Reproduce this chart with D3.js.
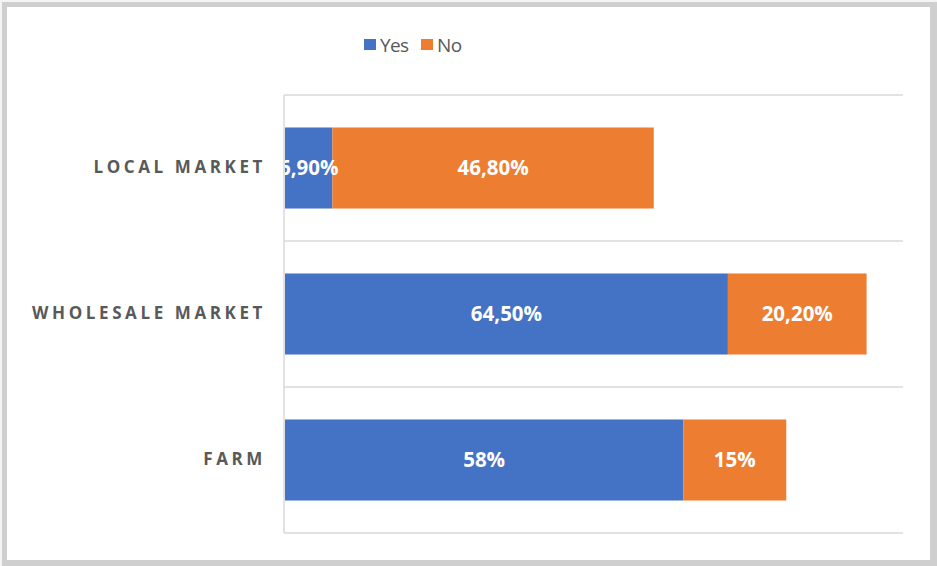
<!DOCTYPE html>
<html>
<head>
<meta charset="utf-8">
<script src="https://cdn.jsdelivr.net/npm/d3@7"></script>
<style>
  html, body { margin: 0; padding: 0; background: #ffffff; }
  svg { display: block; }
</style>
</head>
<body>
<svg id="chart" width="937" height="566"></svg>
<script>
// Survey answers per sales channel, in percent
const categories = ["LOCAL MARKET", "WHOLESALE MARKET", "FARM"];
const yesValues = [6.9, 64.5, 58];
const noValues = [46.8, 20.2, 15];
const yesLabels = ["6,90%", "64,50%", "58%"];
const noLabels = ["46,80%", "20,20%", "15%"];
const seriesNames = ["Yes", "No"];
const seriesColors = ["#4472C4", "#ED7D31"];

const svg = d3.select("#chart");
const W = 937, H = 566;

// frame
svg.append("rect").attr("x", 0).attr("y", 0).attr("width", W).attr("height", H).attr("fill", "#f4f4f4");
svg.append("rect").attr("x", 2).attr("y", 2).attr("width", W - 2).attr("height", H - 2).attr("fill", "#cfcfcf");
svg.append("rect").attr("x", 7).attr("y", 7).attr("width", 923).attr("height", 553).attr("fill", "#ffffff");

const plot = { left: 285, right: 903, top: 95, bottom: 533 };

const x = d3.scaleLinear().domain([0, 90]).range([plot.left, plot.right]);
const y = d3.scaleBand().domain(categories).range([plot.top, plot.bottom]).padding(0);
const barH = y.bandwidth() * 0.555;

// horizontal separators between categories
const bounds = categories.map(c => y(c)).concat([plot.bottom]);
svg.append("g").selectAll("line").data(bounds).join("line")
  .attr("x1", plot.left - 1).attr("x2", plot.right)
  .attr("y1", d => d).attr("y2", d => d)
  .attr("stroke", "#d9d9d9").attr("stroke-width", 1.5);

// stacked bars
const rows = categories.map((c, i) => ({ cat: c, yes: yesValues[i], no: noValues[i], yesLabel: yesLabels[i], noLabel: noLabels[i] }));
const stack = d3.stack().keys(["yes", "no"])(rows);

stack.forEach((layer, si) => {
  const g = svg.append("g");
  g.selectAll("rect").data(layer).join("rect")
    .attr("x", d => x(d[0]))
    .attr("width", d => x(d[1]) - x(d[0]))
    .attr("y", d => y(d.data.cat) + (y.bandwidth() - barH) / 2)
    .attr("height", barH)
    .attr("fill", seriesColors[si]);
});

// value labels
const labelG = svg.append("g")
  .attr("font-family", "'Open Sans', sans-serif")
  .attr("font-weight", 700)
  .attr("font-size", 20.5)
  .attr("fill", "#ffffff")
  .attr("text-anchor", "middle");
stack.forEach((layer, si) => {
  labelG.selectAll(null).data(layer).join("text")
    .attr("x", d => (x(d[0]) + x(d[1])) / 2)
    .attr("y", d => y(d.data.cat) + y.bandwidth() / 2)
    .attr("dy", "0.36em")
    .text(d => si === 0 ? d.data.yesLabel : d.data.noLabel);
});

// white cover left of the axis so the narrow label is clipped at the plot edge
svg.append("rect").attr("x", 266).attr("y", plot.top + 2).attr("width", plot.left - 266 - 1).attr("height", plot.bottom - plot.top - 4).attr("fill", "#ffffff");

// vertical category axis
svg.append("line")
  .attr("x1", plot.left - 1).attr("x2", plot.left - 1)
  .attr("y1", plot.top).attr("y2", plot.bottom)
  .attr("stroke", "#d9d9d9").attr("stroke-width", 1.5);

// category labels
const yAxis = d3.axisLeft(y).tickSize(0).tickPadding(0);
const axG = svg.append("g").attr("transform", "translate(266,0)").call(yAxis);
axG.select(".domain").remove();
axG.selectAll("text")
  .attr("font-family", "'Open Sans', sans-serif")
  .attr("font-weight", 700)
  .attr("font-size", 17)
  .attr("letter-spacing", "3.6px")
  .attr("fill", "#595959");

// legend
const legend = svg.append("g").attr("font-family", "'Open Sans', sans-serif").attr("font-size", 19).attr("fill", "#595959");
const legendX = [364, 421];
seriesNames.forEach((name, i) => {
  legend.append("rect").attr("x", legendX[i]).attr("y", 39).attr("width", 12).attr("height", 11).attr("fill", seriesColors[i]);
  legend.append("text").attr("x", legendX[i] + 16).attr("y", 51.5).attr("letter-spacing", "-0.6px").text(name);
});
</script>
</body>
</html>
